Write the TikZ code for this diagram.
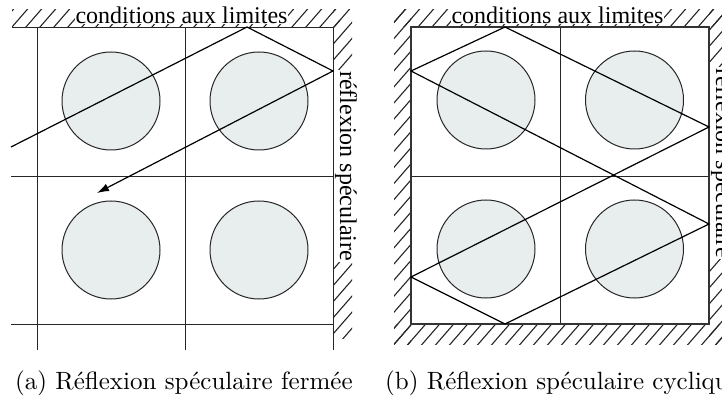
\documentclass[tikz,border=0pt]{standalone}
\usepackage{fontspec}
\newfontfamily\tnr{Liberation Serif}
\newfontfamily\capfont{lmroman10-regular}[Extension=.otf]
\usetikzlibrary{arrows.meta}
\definecolor{obstfill}{RGB}{232,237,237}
\newcommand\hatchband[4]{%
  \begin{scope}
    \clip (#1,#2) rectangle (#3,#4);
    \foreach \k in {-5,...,75}
      \draw[hatchline] ({12+14*\k-400},{27+460}) -- ({12+14*\k+400},{27-460});
  \end{scope}}
\begin{document}
\begin{tikzpicture}[x=1pt,y=-1pt,
  gridline/.style={line width=0.8pt, black!85},
  bframe/.style={line width=1.5pt, black!80},
  rayline/.style={line width=1.2pt, black},
  hatchline/.style={line width=1.1pt, black!85},
  obst/.style={circle, draw=black!85, line width=1pt, fill=obstfill, minimum size=98pt, inner sep=0pt},
  lbl/.style={font=\tnr\fontsize{24}{26}\selectfont, fill=white, inner sep=0.6pt},
  capt/.style={font=\capfont\fontsize{25}{28}\selectfont, anchor=base west, inner sep=0pt}]
\clip (0,0) rectangle (722,403);
\fill[white] (0,0) rectangle (722,403);

% ---------- hatching (a)
\hatchband{12}{10}{340}{27}
\hatchband{333}{10}{352}{338}
% ---------- hatching (b)
\hatchband{394}{10}{722}{27}
\hatchband{394}{10}{411}{344}
\hatchband{394}{324}{722}{344}
\hatchband{709}{10}{722}{344}

% ---------- labels
\node[lbl, anchor=base] (tca) at (181.5,23.5) {conditions aux limites};
\node[lbl, rotate=-90] (tra) at (346,166) {réflexion spéculaire};
\node[lbl, anchor=base] (tcb) at (557.5,23.5) {conditions aux limites};
\node[lbl, rotate=-90] (trb) at (722,163) {réflexion spéculaire};

% ---------- grid (a)
\draw[gridline] (12,27) -- (333,27);
\draw[gridline] (11,176) -- (333,176);
\draw[gridline] (11,324) -- (333,324);
\draw[gridline] (37,27) -- (37,350);
\draw[gridline] (185,27) -- (185,350);
\draw[gridline] (333,27) -- (333,350);

% ---------- grid (b)
\draw[gridline] (560,27) -- (560,324);
\draw[gridline] (411,176) -- (709,176);
\draw[bframe] (411,27) rectangle (709,324);

% ---------- obstacles
\node[obst] (a11) at (111,101) {};
\node[obst] (a12) at (259,101) {};
\node[obst] (a21) at (111,250) {};
\node[obst] (a22) at (259,250) {};
\node[obst] (b11) at (486,100) {};
\node[obst] (b12) at (634.5,100) {};
\node[obst] (b21) at (486,249) {};
\node[obst] (b22) at (634.5,249) {};

% ---------- rays (a)
\coordinate (a0) at (11,147);
\coordinate (a1) at (247,27);
\coordinate (a2) at (333,71);
\coordinate (a3) at (97,193);
\draw[rayline, -{Latex[length=12pt,width=8pt]}] (a0) -- (a1) -- (a2) -- (a3);

% ---------- rays (b)
\coordinate (b1) at (411,71);
\coordinate (b2) at (505,27);
\coordinate (b3) at (709,127);
\coordinate (b4) at (411,277);
\coordinate (b5) at (505,324);
\coordinate (b6) at (709,224);
\draw[rayline, line join=miter] (b1) -- (b2) -- (b3) -- (b4) -- (b5) -- (b6) -- cycle;

% ---------- captions
\node[capt] (ca) at (15,389) {(a) Réflexion spéculaire fermée};
\node[capt] (cb) at (385,389) {(b) Réflexion spéculaire cyclique};
\end{tikzpicture}
\end{document}
